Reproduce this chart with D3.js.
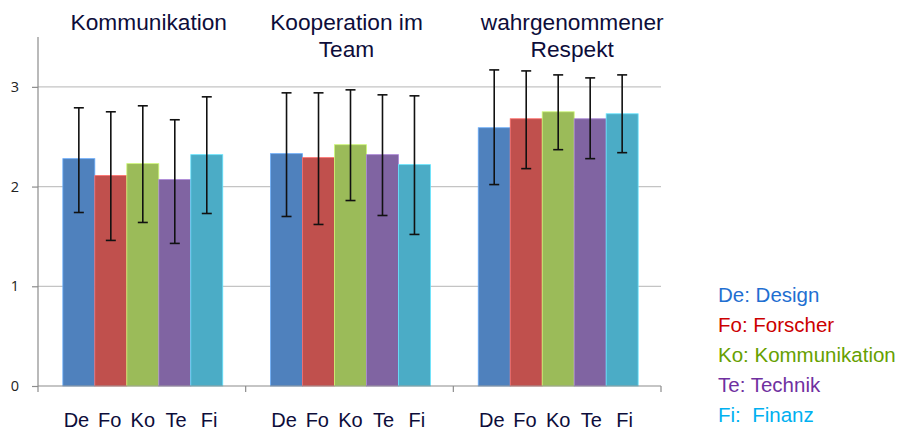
<!DOCTYPE html>
<html><head><meta charset="utf-8">
<script src="https://cdn.jsdelivr.net/npm/d3@7"></script>
<style>body{margin:0;background:#fff}svg{display:block}</style>
</head><body>
<svg id="c" width="900" height="433"></svg>
<script>
const groups = ["Kommunikation", "Kooperation im Team", "wahrgenommener Respekt"];
const groupTitleLines = [["Kommunikation"], ["Kooperation im", "Team"], ["wahrgenommener", "Respekt"]];
const series = ["De", "Fo", "Ko", "Te", "Fi"];
const legendLabels = ["De: Design", "Fo: Forscher", "Ko: Kommunikation", "Te: Technik", "Fi:  Finanz"];
const meanDe = [2.28, 2.33, 2.59];
const meanFo = [2.11, 2.29, 2.68];
const meanKo = [2.23, 2.42, 2.75];
const meanTe = [2.07, 2.32, 2.68];
const meanFi = [2.32, 2.22, 2.73];
const upperDe = [2.79, 2.94, 3.17];
const upperFo = [2.75, 2.94, 3.16];
const upperKo = [2.81, 2.97, 3.12];
const upperTe = [2.67, 2.92, 3.09];
const upperFi = [2.90, 2.91, 3.12];
const lowerDe = [1.74, 1.70, 2.02];
const lowerFo = [1.46, 1.62, 2.18];
const lowerKo = [1.64, 1.86, 2.37];
const lowerTe = [1.43, 1.71, 2.28];
const lowerFi = [1.73, 1.52, 2.34];
const yTicks = [0, 1, 2, 3];

const means = [meanDe, meanFo, meanKo, meanTe, meanFi];
const uppers = [upperDe, upperFo, upperKo, upperTe, upperFi];
const lowers = [lowerDe, lowerFo, lowerKo, lowerTe, lowerFi];
const barColors = ["#4F81BD", "#C0504D", "#9BBB59", "#8064A2", "#4BACC6"];
const legendColors = ["#1F6FD1", "#CC0000", "#66A000", "#7030A0", "#00B0F0"];
const titleShift = [6, -4, 14];

const svg = d3.select("#c");
const pLeft = 38, pRight = 661, pTop = 37, pBottom = 386;
const y = d3.scaleLinear().domain([0, 3.5]).range([pBottom, pTop]);
const x0 = d3.scaleBand().domain(groups).range([pLeft + 2, pRight]).paddingInner(0.23).paddingOuter(0.11);
const x1 = d3.scaleBand().domain(series).range([0, x0.bandwidth()]);

// gridlines
svg.append("g").selectAll("line").data(yTicks.filter(t => t > 0)).join("line")
  .attr("x1", pLeft).attr("x2", pRight).attr("y1", d => y(d)).attr("y2", d => y(d))
  .attr("stroke", "#c4c4c4").attr("stroke-width", 1.2);

// bars
const data = [];
groups.forEach((g, gi) => series.forEach((s, si) => data.push({g, s, si, v: means[si][gi], hi: uppers[si][gi], lo: lowers[si][gi]})));
svg.append("g").selectAll("rect").data(data).join("rect")
  .attr("x", d => x0(d.g) + x1(d.s))
  .attr("y", d => y(d.v))
  .attr("width", x1.bandwidth())
  .attr("height", d => y(0) - y(d.v))
  .attr("fill", d => barColors[d.si])
  .attr("stroke", d => d3.color(barColors[d.si]).brighter(0.8))
  .attr("stroke-width", 0.8);

// error bars
const eb = svg.append("g").attr("stroke", "#111").attr("stroke-width", 1.6);
data.forEach(d => {
  const cx = x0(d.g) + x1(d.s) + x1.bandwidth() / 2;
  eb.append("line").attr("x1", cx).attr("x2", cx).attr("y1", y(d.hi)).attr("y2", y(d.lo));
  eb.append("line").attr("x1", cx - 5).attr("x2", cx + 5).attr("y1", y(d.hi)).attr("y2", y(d.hi));
  eb.append("line").attr("x1", cx - 5).attr("x2", cx + 5).attr("y1", y(d.lo)).attr("y2", y(d.lo));
});

// y axis
const yAxis = svg.append("g").attr("transform", `translate(${pLeft},0)`)
  .call(d3.axisLeft(y).tickValues(yTicks).tickSize(6).tickFormat(d3.format("d")));
yAxis.select(".domain").attr("stroke", "#8c8c8c").attr("stroke-width", 1.2).attr("d", `M0,${pTop}V${pBottom}`);
yAxis.selectAll(".tick line").attr("stroke", "#8c8c8c").attr("stroke-width", 1.2);
yAxis.selectAll(".tick text").attr("x", -19).attr("font-family", "Open Sans, sans-serif").attr("font-size", 14.5).attr("fill", "#222");

// x axis line with boundary ticks
const xa = svg.append("g").attr("stroke", "#8c8c8c").attr("stroke-width", 1.2);
xa.append("line").attr("x1", pLeft).attr("x2", pRight).attr("y1", pBottom).attr("y2", pBottom);
[0, 1, 2, 3].forEach(k => {
  const xx = pLeft + k * (pRight - pLeft) / 3;
  xa.append("line").attr("x1", xx).attr("x2", xx).attr("y1", pBottom).attr("y2", pBottom + 6);
});

// category labels
svg.append("g").selectAll("text").data(data).join("text")
  .attr("x", d => x0(d.g) + x1(d.s) + x1.bandwidth() / 2 + (d.si - 2) * 1.2)
  .attr("y", 427)
  .attr("text-anchor", "middle")
  .attr("font-family", "Liberation Sans, Arial, sans-serif")
  .attr("font-size", 20)
  .attr("fill", "#0d0d3a")
  .text(d => d.s);

// group titles
groups.forEach((g, gi) => {
  const cx = x0(g) + x0.bandwidth() / 2 + titleShift[gi];
  groupTitleLines[gi].forEach((line, li) => {
    svg.append("text").attr("x", cx).attr("y", 30 + li * 27)
      .attr("text-anchor", "middle")
      .attr("font-family", "Liberation Sans, Arial, sans-serif")
      .attr("font-size", 22.7).attr("fill", "#0d0d3a").text(line);
  });
});

// legend
svg.append("g").selectAll("text").data(legendLabels).join("text")
  .attr("x", 718).attr("y", (d, i) => 302 + i * 30)
  .attr("font-family", "Liberation Sans, Arial, sans-serif")
  .attr("font-size", 20.5)
  .attr("fill", (d, i) => legendColors[i])
  .style("white-space", "pre")
  .text(d => d);
</script>
</body></html>
